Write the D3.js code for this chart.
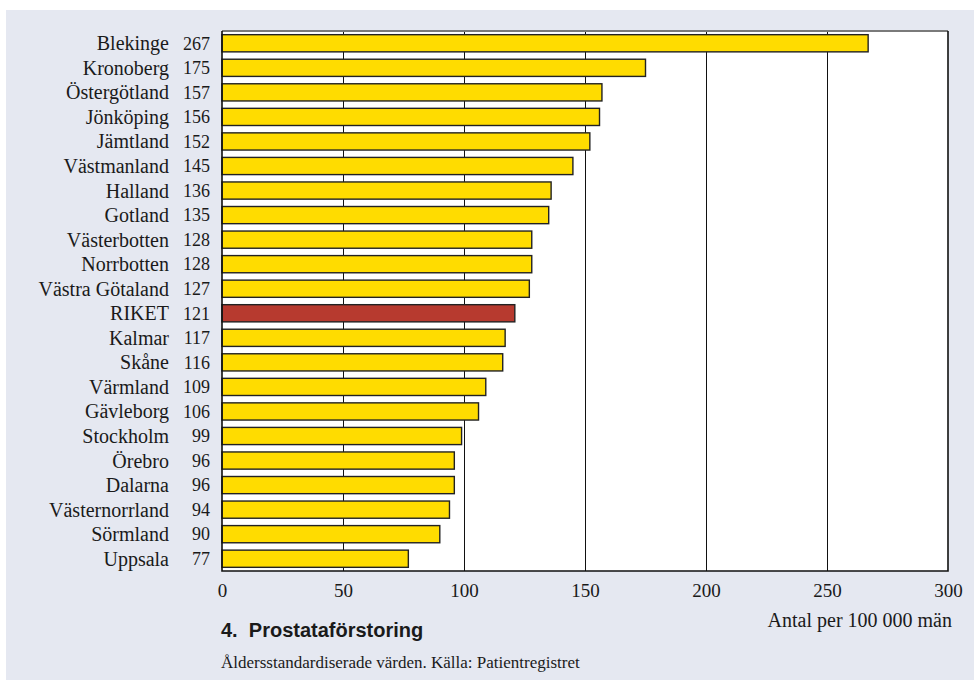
<!DOCTYPE html>
<html>
<head>
<meta charset="utf-8">
<script src="https://cdn.jsdelivr.net/npm/d3@7"></script>
<style>
  html, body { margin: 0; padding: 0; background: #ffffff; }
  svg { display: block; }
</style>
</head>
<body>
<svg id="chart" width="974" height="680"></svg>
<script>
// Regions, sorted by rate
const regions = ["Blekinge", "Kronoberg", "Östergötland", "Jönköping", "Jämtland", "Västmanland",
  "Halland", "Gotland", "Västerbotten", "Norrbotten", "Västra Götaland", "RIKET", "Kalmar",
  "Skåne", "Värmland", "Gävleborg", "Stockholm", "Örebro", "Dalarna", "Västernorrland",
  "Sörmland", "Uppsala"];
const rates = [267, 175, 157, 156, 152, 145, 136, 135, 128, 128, 127, 121, 117, 116, 109, 106,
  99, 96, 96, 94, 90, 77];
const xTicks = [0, 50, 100, 150, 200, 250, 300];
const nationalLabel = "RIKET";

const rows = regions.map((r, i) => ({ region: r, rate: rates[i] }));

const svg = d3.select("#chart");
const W = 974, H = 680;
const plot = { left: 222, right: 948, top: 31, bottom: 571 };
const serif = "'Liberation Serif', 'DejaVu Serif', serif";
const sans = "'Liberation Sans', Arial, sans-serif";

// Panel background
svg.append("rect").attr("x", 6).attr("y", 10).attr("width", W - 6).attr("height", H - 10)
  .attr("fill", "#e5e8f1");

// Plot area
svg.append("rect").attr("x", plot.left).attr("y", plot.top)
  .attr("width", plot.right - plot.left).attr("height", plot.bottom - plot.top)
  .attr("fill", "#ffffff");

const x = d3.scaleLinear().domain([0, 300]).range([plot.left, plot.right]);
const y = d3.scaleBand().domain(regions).range([plot.top, plot.bottom]).paddingInner(0.3).paddingOuter(0.15);

// Vertical gridlines
svg.append("g").selectAll("line").data(xTicks.filter(t => t > 0 && t < 300)).join("line")
  .attr("x1", d => x(d)).attr("x2", d => x(d))
  .attr("y1", plot.top).attr("y2", plot.bottom)
  .attr("stroke", "#111").attr("stroke-width", 1).attr("shape-rendering", "crispEdges");

// Bars
svg.append("g").selectAll("rect").data(rows).join("rect")
  .attr("x", x(0))
  .attr("y", d => y(d.region))
  .attr("width", d => x(d.rate) - x(0))
  .attr("height", y.bandwidth())
  .attr("fill", d => d.region === nationalLabel ? "#b73a2f" : "#ffdc00")
  .attr("stroke", "#222").attr("stroke-width", 1.4);

// Plot frame: grey top, black left/right/bottom
svg.append("line").attr("x1", plot.left).attr("x2", plot.right).attr("y1", plot.top).attr("y2", plot.top)
  .attr("stroke", "#7a7a7a").attr("stroke-width", 2);
svg.append("path")
  .attr("d", `M${plot.left},${plot.top}V${plot.bottom}H${plot.right}V${plot.top}`)
  .attr("fill", "none").attr("stroke", "#111").attr("stroke-width", 1.6);

// Category labels and values
const lab = svg.append("g").attr("font-family", serif).attr("fill", "#1a1a1a");
lab.selectAll("text.name").data(rows).join("text").attr("class", "name")
  .attr("x", 169).attr("y", d => y(d.region) + y.bandwidth() / 2)
  .attr("dy", "0.35em").attr("text-anchor", "end").attr("font-size", 20).text(d => d.region);
lab.selectAll("text.val").data(rows).join("text").attr("class", "val")
  .attr("x", 210).attr("y", d => y(d.region) + y.bandwidth() / 2)
  .attr("dy", "0.35em").attr("text-anchor", "end").attr("font-size", 18).text(d => d.rate);

// X axis tick labels
const xAxis = d3.axisBottom(x).tickValues(xTicks).tickSize(0).tickPadding(0);
const gx = svg.append("g").attr("transform", `translate(0,${plot.bottom})`).call(xAxis);
gx.select(".domain").remove();
gx.selectAll("text").attr("font-family", serif).attr("font-size", 19).attr("fill", "#1a1a1a")
  .attr("y", 26).attr("dy", 0);

// Axis title
svg.append("text").attr("x", 952).attr("y", 627).attr("text-anchor", "end")
  .attr("font-family", serif).attr("font-size", 20).attr("fill", "#1a1a1a")
  .text("Antal per 100 000 män");

// Title and source
svg.append("text").attr("x", 221).attr("y", 637)
  .attr("font-family", sans).attr("font-weight", "bold").attr("font-size", 20).attr("fill", "#1a1a1a")
  .attr("xml:space", "preserve").text("4.  Prostataförstoring");
svg.append("text").attr("x", 221).attr("y", 668)
  .attr("font-family", serif).attr("font-size", 17).attr("fill", "#1a1a1a")
  .text("Åldersstandardiserade värden. Källa: Patientregistret");
</script>
</body>
</html>
